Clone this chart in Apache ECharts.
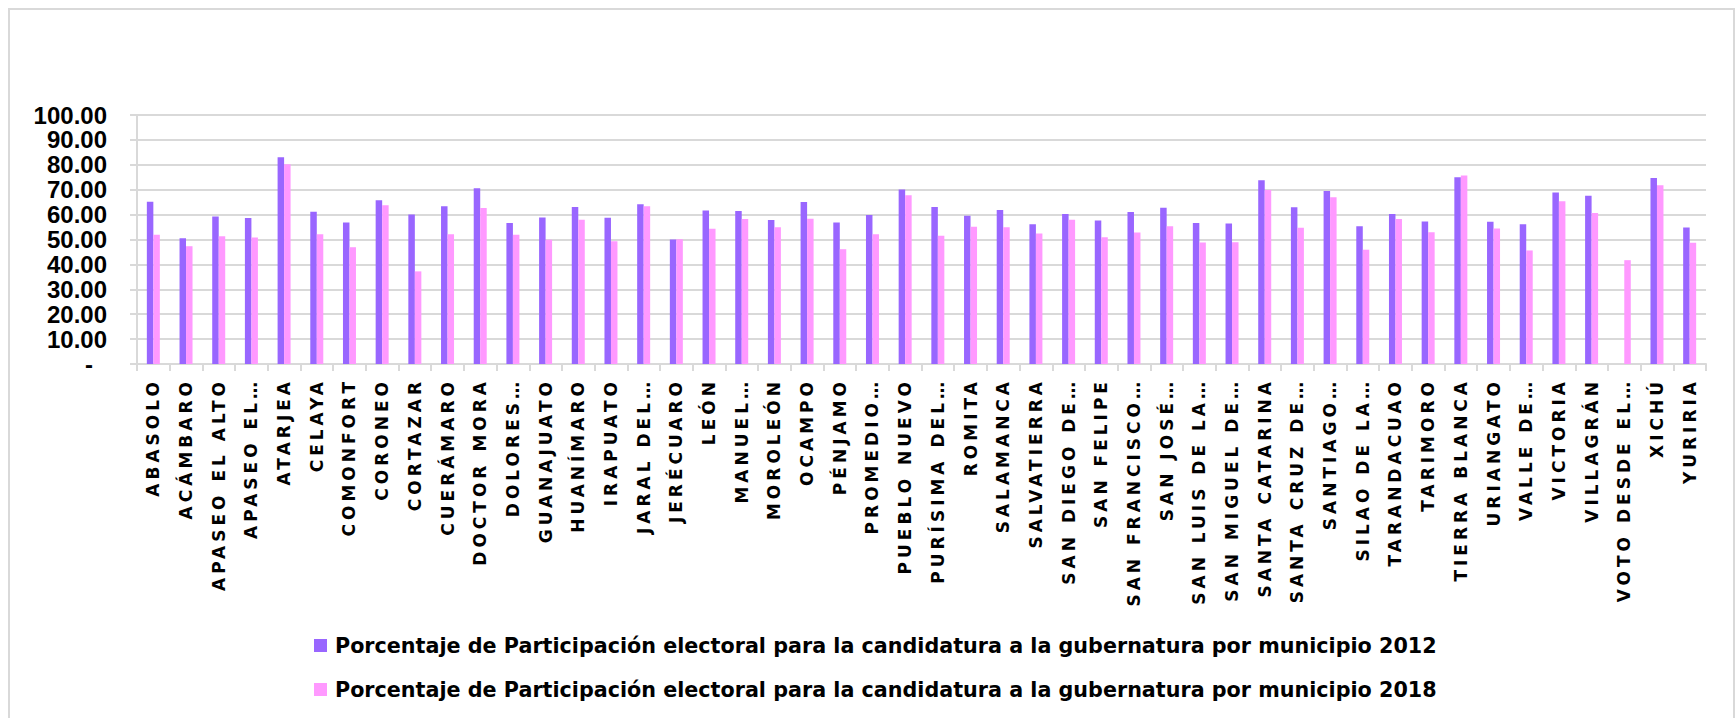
<!DOCTYPE html>
<html>
<head>
<meta charset="utf-8">
<script src="https://cdn.jsdelivr.net/npm/echarts@6/dist/echarts.min.js"></script>
<style>
html,body{margin:0;padding:0;background:#fff;}
#chart{width:1736px;height:718px;}
</style>
</head>
<body>
<div id="chart"></div>
<script>
const categories = ["ABASOLO","ACÁMBARO","APASEO EL ALTO","APASEO EL…","ATARJEA","CELAYA","COMONFORT","CORONEO","CORTAZAR","CUERÁMARO","DOCTOR MORA","DOLORES…","GUANAJUATO","HUANÍMARO","IRAPUATO","JARAL DEL…","JERÉCUARO","LEÓN","MANUEL…","MOROLEÓN","OCAMPO","PÉNJAMO","PROMEDIO…","PUEBLO NUEVO","PURÍSIMA DEL…","ROMITA","SALAMANCA","SALVATIERRA","SAN DIEGO DE…","SAN FELIPE","SAN FRANCISCO…","SAN JOSÉ…","SAN LUIS DE LA…","SAN MIGUEL DE…","SANTA CATARINA","SANTA CRUZ DE…","SANTIAGO…","SILAO DE LA…","TARANDACUAO","TARIMORO","TIERRA BLANCA","URIANGATO","VALLE DE…","VICTORIA","VILLAGRÁN","VOTO DESDE EL…","XICHÚ","YURIRIA"];
const values2012 = [65.2,50.5,59.2,58.6,83.0,61.1,56.8,65.8,60.0,63.4,70.6,56.6,58.8,63.1,58.7,64.2,50.0,61.6,61.4,57.8,65.1,56.8,59.8,70.1,63.1,59.5,61.8,56.1,60.2,57.6,61.0,62.8,56.6,56.4,73.8,63.0,69.5,55.3,60.2,57.2,75.0,57.1,56.1,68.9,67.6,null,74.7,54.8];
const values2018 = [51.9,47.3,51.3,50.8,80.2,52.1,46.9,63.8,37.2,52.1,62.7,51.9,49.9,57.9,49.3,63.4,50.1,54.3,58.2,54.9,58.3,46.1,52.1,67.8,51.5,55.1,54.9,52.4,57.9,50.9,52.8,55.3,48.8,48.9,69.9,54.7,67.0,45.9,58.2,52.9,75.7,54.4,45.6,65.4,60.6,41.7,71.8,48.7];
const seriesNames = ["Porcentaje de Participación electoral para la candidatura a la gubernatura por municipio 2012","Porcentaje de Participación electoral para la candidatura a la gubernatura por municipio 2018"];
const yMin = 0, yMax = 100, yStep = 10;

const chart = echarts.init(document.getElementById('chart'), null, {renderer:'svg', width:1736, height:718});
const gridColor = '#d9d9d9';
chart.setOption({
  animation:false,
  backgroundColor:'#ffffff',
  graphic:[{type:'rect', shape:{x:9,y:9,width:1725,height:730}, style:{fill:'none', stroke:gridColor, lineWidth:2}, silent:true}],
  grid:{left:137, right:30, top:115, bottom:354, containLabel:false},
  legend:{
    orient:'vertical', left:309, top:630, padding:5, itemWidth:13, itemHeight:13, itemGap:23,
    icon:'rect',
    textStyle:{fontFamily:'DejaVu Sans', fontWeight:'bold', fontSize:20.7, lineHeight:21, color:'#000', padding:[0,0,0,3]},
    data:seriesNames
  },
  xAxis:{
    type:'category', data:categories, boundaryGap:true,
    axisLine:{show:true, lineStyle:{color:gridColor, width:2}},
    axisTick:{show:true, length:7, lineStyle:{color:gridColor, width:2}},
    axisLabel:{interval:0, rotate:90, margin:14, color:'#000', fontFamily:'DejaVu Sans', fontWeight:'bold', fontSize:17}
  },
  yAxis:{
    type:'value', min:yMin, max:yMax, interval:yStep,
    axisLine:{show:true, lineStyle:{color:gridColor, width:2}},
    axisTick:{show:true, length:7, lineStyle:{color:gridColor, width:2}},
    splitLine:{show:true, lineStyle:{color:gridColor, width:2}},
    axisLabel:{margin:30, color:'#000', fontFamily:'Liberation Sans', fontWeight:'bold', fontSize:24,
      formatter:function(v){ return v===0 ? '{d|-}' : v.toFixed(2); },
      rich:{d:{fontFamily:'Liberation Sans', fontWeight:'bold', fontSize:24, color:'#000', padding:[0,14,0,0]}}
    }
  },
  series:[
    {name:seriesNames[0], type:'bar', data:values2012, barWidth:6.5, barGap:'0%', itemStyle:{color:'#9966FF'}},
    {name:seriesNames[1], type:'bar', data:values2018, barWidth:6.5, barGap:'0%', itemStyle:{color:'#FF99FF'}}
  ]
});

function spaceLabels(){
  const set = new Set(categories);
  document.querySelectorAll('#chart svg text').forEach(function(t){
    if(set.has(t.textContent)){ t.style.letterSpacing = '4px'; }
  });
}
spaceLabels();
chart.on('finished', spaceLabels);
</script>
</body>
</html>
